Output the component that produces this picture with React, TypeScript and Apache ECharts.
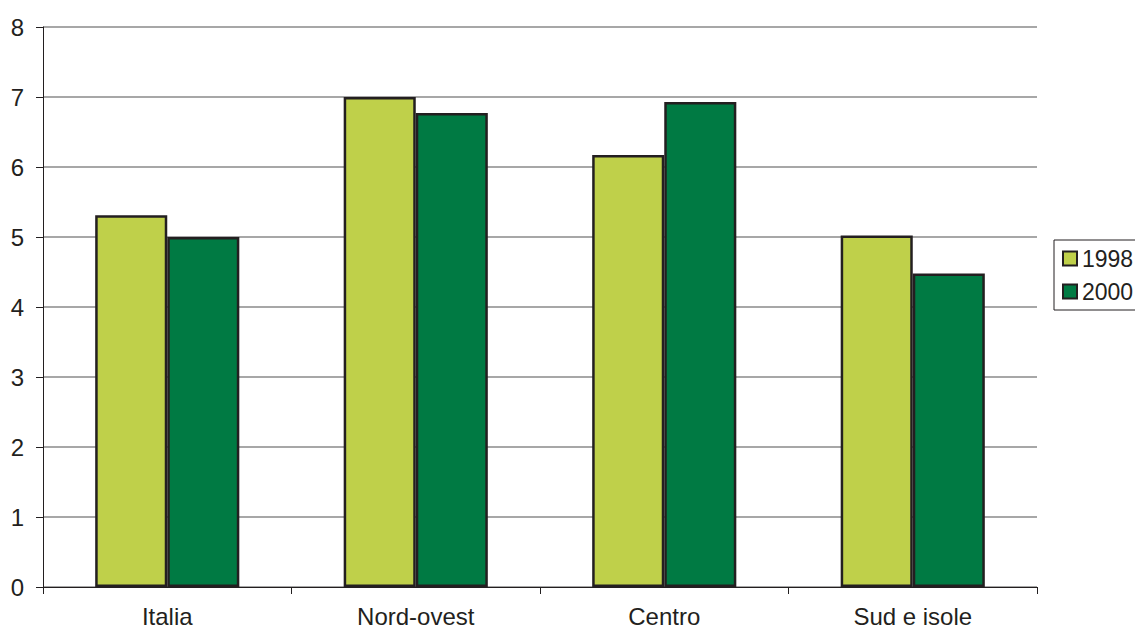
import React, { useEffect, useRef } from "react";
import * as echarts from "echarts";

const categories = ["Italia", "Nord-ovest", "Centro", "Sud e isole"];
const values1998 = [5.31, 7.0, 6.17, 5.02];
const values2000 = [5.0, 6.77, 6.93, 4.48];
const seriesNames = ["1998", "2000"];

const TEXT = "#231f20";

export default function App() {
  const ref = useRef<HTMLDivElement>(null);
  useEffect(() => {
    const chart = echarts.init(ref.current!, null, { renderer: "svg" });
    const border = { borderColor: "#231f20", borderWidth: 2.5 };
    chart.setOption({
      animation: false,
      backgroundColor: "#ffffff",
      textStyle: { fontFamily: "Liberation Sans, Arial, sans-serif", color: TEXT },
      grid: { left: 43, right: 98, top: 27, bottom: 43, containLabel: false },
      legend: {
        orient: "vertical",
        left: 1054,
        top: 240,
        data: seriesNames,
        icon: "rect",
        itemWidth: 14,
        itemHeight: 14,
        itemGap: 10,
        padding: [7, 10, 7, 8],
        borderColor: "#231f20",
        borderWidth: 1,
        backgroundColor: "#ffffff",
        textStyle: { fontSize: 23, color: TEXT },
      },
      xAxis: {
        type: "category",
        data: categories,
        axisLine: { lineStyle: { color: "#231f20", width: 1 } },
        axisTick: { show: true, length: 7, lineStyle: { color: "#231f20" } },
        axisLabel: { fontSize: 24, color: TEXT, margin: 17 },
      },
      yAxis: {
        type: "value",
        min: 0,
        max: 8,
        interval: 1,
        axisLine: { show: true, lineStyle: { color: "#231f20", width: 1 } },
        axisTick: { show: true, length: 7, lineStyle: { color: "#231f20" } },
        axisLabel: { fontSize: 24, color: TEXT, margin: 19 },
        splitLine: { lineStyle: { color: "#8a8a8a", width: 1.5 } },
      },
      series: [
        {
          name: seriesNames[0],
          type: "bar",
          data: values1998,
          barGap: "0%",
          barCategoryGap: "42%",
          itemStyle: { color: "#bfd04a", ...border },
        },
        {
          name: seriesNames[1],
          type: "bar",
          data: values2000,
          barGap: "0%",
          barCategoryGap: "42%",
          itemStyle: { color: "#007a43", ...border },
        },
      ],
    });
    return () => chart.dispose();
  }, []);
  return <div ref={ref} style={{ width: 1135, height: 630, position: "absolute", left: 0, top: 0 }} />;
}
